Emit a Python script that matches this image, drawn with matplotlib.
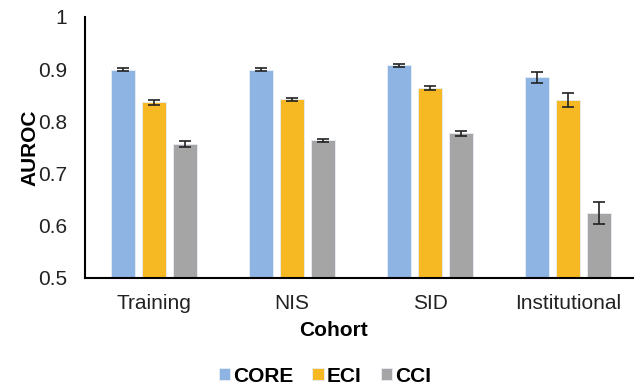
import matplotlib.pyplot as plt
import numpy as np

plt.rcParams['font.family'] = ['Liberation Sans', 'DejaVu Sans']

cohorts = ['Training', 'NIS', 'SID', 'Institutional']
series = ['CORE', 'ECI', 'CCI']
core = [0.899, 0.899, 0.907, 0.884]
eci = [0.836, 0.842, 0.863, 0.840]
cci = [0.756, 0.763, 0.777, 0.623]
core_err = [0.0035, 0.003, 0.0025, 0.0105]
eci_err = [0.005, 0.003, 0.004, 0.0135]
cci_err = [0.006, 0.0035, 0.0045, 0.021]
colors = ['#8DB4E2', '#F7B923', '#A5A5A5']

fig = plt.figure(figsize=(6.34, 3.89), dpi=100)
ax = fig.add_axes([85 / 634, 1 - 277.5 / 389, (634 - 85) / 634, (277.5 - 17) / 389])

x = np.arange(len(cohorts))
w = 0.174
step = 0.222
for i, (vals, errs) in enumerate([(core, core_err), (eci, eci_err), (cci, cci_err)]):
    ax.bar(x + (i - 1) * step, vals, w, color=colors[i], edgecolor='#E8EEF5', linewidth=0.6,
           yerr=errs, capsize=4, error_kw={'elinewidth': 1.2, 'capthick': 1.2, 'ecolor': '#222222'},
           label=series[i], zorder=2)

ax.set_ylim(0.5, 1.0)
ax.set_xlim(-0.5, -0.5 + 549 / 138)
ax.set_yticks([0.5, 0.6, 0.7, 0.8, 0.9, 1.0])
ax.set_yticklabels(['0.5', '0.6', '0.7', '0.8', '0.9', '1'])
ax.set_xticks(x)
ax.set_xticklabels(cohorts)
ax.tick_params(axis='both', length=0, labelsize=15, colors='#222222')
ax.tick_params(axis='y', pad=13)
ax.tick_params(axis='x', pad=12)
for s in ['top', 'right']:
    ax.spines[s].set_visible(False)
ax.spines['left'].set_linewidth(1.5)
ax.spines['bottom'].set_linewidth(1.5)

ax.set_ylabel('AUROC', fontsize=15, fontweight='bold')
ax.yaxis.set_label_coords((30 - 85) / 549, 0.5)
ax.yaxis.label.set_va('center')
ax.set_xlabel('Cohort', fontsize=15, fontweight='bold')
ax.xaxis.set_label_coords((334 - 85) / 549, (277.5 - 330) / 260.5)
ax.xaxis.label.set_va('center')

fig.legend(loc='center', bbox_to_anchor=(325 / 634, 1 - 376 / 389), ncol=3, frameon=False,
           prop={'size': 15, 'weight': 'bold'}, handlelength=0.55, handleheight=0.55,
           handletextpad=0.15, columnspacing=0.9)

fig.savefig('out.png', dpi=100)
